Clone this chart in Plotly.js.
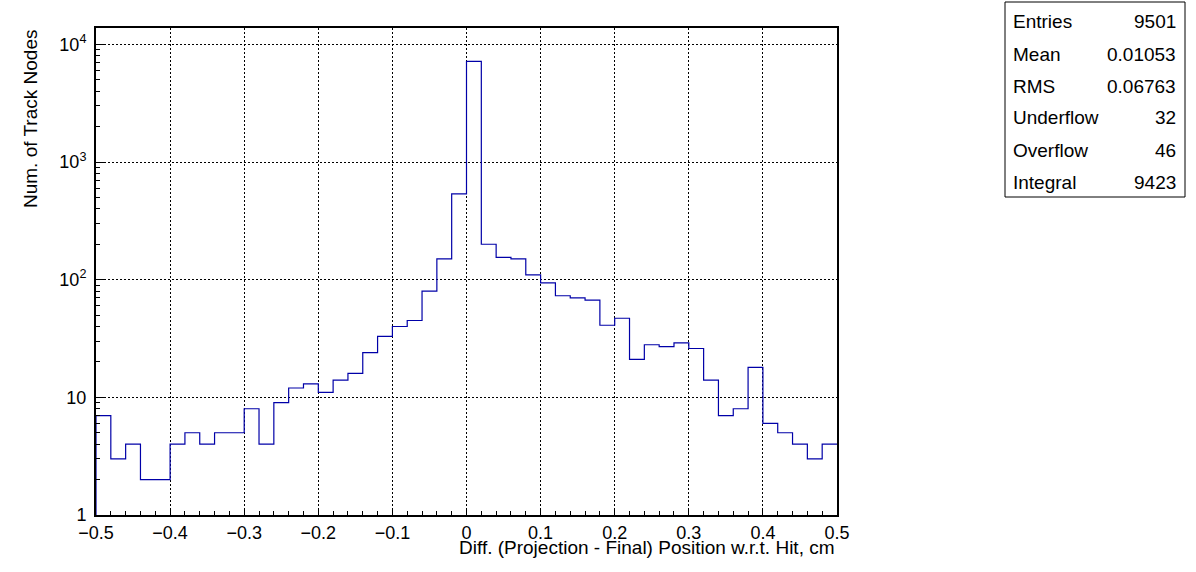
<!DOCTYPE html>
<html>
<head>
<meta charset="utf-8">
<script src="https://cdn.plot.ly/plotly-3.0.1.min.js"></script>
<style>html,body{margin:0;padding:0;background:#fff;}#chart{width:1196px;height:572px;}</style>
</head>
<body>
<div id="chart"></div>
<script>
// Histogram: 50 bins from -0.5 to 0.5 (width 0.02)
const binLow = -0.5;
const binWidth = 0.02;
const counts = [7,3,4,2,2,4,5,4,5,5,8,4,9,12,13,11,14,16,24,33,40,45,80,150,536,
                7180,200,155,150,110,94,73,70,67,41,47,21,28,27,29,26,14,7,8,18,6,5,4,3,4];
const xTickVals = [-0.5,-0.4,-0.3,-0.2,-0.1,0,0.1,0.2,0.3,0.4,0.5];
const yTickVals = [1,10,100,1000,10000];
const yTickText = ['1','10','10<sup>2</sup>','10<sup>3</sup>','10<sup>4</sup>'];
const statLabels = ['Entries','Mean','RMS','Underflow','Overflow','Integral'];
const statValues = ['9501','0.01053','0.06763','32','46','9423'];
const xTitle = 'Diff. (Projection - Final) Position w.r.t. Hit, cm';
const yTitle = 'Num. of Track Nodes';

// step outline
const xs = [binLow], ys = [1];
counts.forEach((c, i) => { xs.push(binLow + i * binWidth); ys.push(c); });
xs.push(binLow + counts.length * binWidth); ys.push(counts[counts.length - 1]);

const minorY = [];
for (let d = 1; d <= 10000; d *= 10) for (let k = 2; k <= 9; k++) if (d * k < 14000) minorY.push(d * k);

const font = 'Liberation Sans, Arial, Helvetica, sans-serif';
const trace = {
  x: xs, y: ys, type: 'scatter', mode: 'lines',
  line: {shape: 'hv', color: '#0000a8', width: 1.2},
  hoverinfo: 'skip'
};

const annotations = [
  {text: xTitle, xref: 'paper', yref: 'paper', x: 1, y: 0, xanchor: 'right', yanchor: 'top',
   yshift: -20, showarrow: false, font: {family: font, size: 19, color: '#000'}},
  {text: yTitle, xref: 'paper', yref: 'paper', x: 0, y: 1, xanchor: 'center', yanchor: 'top',
   xshift: -66, textangle: -90, showarrow: false, font: {family: font, size: 19, color: '#000'}}
];
const boxTop = 2, rowH = 32;
statLabels.forEach((lab, i) => {
  const yPx = boxTop + 20 + i * rowH;
  annotations.push({text: lab, xref: 'paper', yref: 'paper', x: (1011 - 96) / 741, y: 1 - (yPx - 28) / 487,
    xanchor: 'left', yanchor: 'middle', showarrow: false, font: {family: font, size: 19, color: '#000'}});
  annotations.push({text: statValues[i], xref: 'paper', yref: 'paper', x: (1178 - 96) / 741, y: 1 - (yPx - 28) / 487,
    xanchor: 'right', yanchor: 'middle', showarrow: false, font: {family: font, size: 19, color: '#000'}});
});

const layout = {
  width: 1196, height: 572,
  margin: {l: 96, r: 359, t: 28, b: 57},
  paper_bgcolor: '#fff', plot_bgcolor: '#fff',
  showlegend: false,
  font: {family: font, size: 17, color: '#000'},
  xaxis: {
    range: [-0.5, 0.5], tickmode: 'array', tickvals: xTickVals,
    ticks: 'inside', ticklen: 6, tickcolor: '#000', tickwidth: 1,
    showline: true, linecolor: '#000', linewidth: 2, mirror: true,
    showgrid: true, gridcolor: '#000', gridwidth: 1, griddash: '2px,2px',
    zeroline: false, tickfont: {family: font, size: 18},
    minor: {dtick: 0.02, ticks: 'inside', ticklen: 4, tickcolor: '#000', showgrid: false}
  },
  yaxis: {
    type: 'log', range: [0, 4.139], tickmode: 'array', tickvals: yTickVals, ticktext: yTickText,
    ticks: 'inside', ticklen: 8, tickcolor: '#000', tickwidth: 1,
    showline: true, linecolor: '#000', linewidth: 2, mirror: true,
    showgrid: true, gridcolor: '#000', gridwidth: 1, griddash: '2px,2px',
    zeroline: false, tickfont: {family: font, size: 18}, ticklabelstandoff: 4,
    minor: {tickmode: 'array', tickvals: minorY, ticks: 'inside', ticklen: 4, tickcolor: '#000', showgrid: false}
  },
  shapes: [
    {type: 'rect', xref: 'paper', yref: 'paper', x0: (1005 - 96) / 741, x1: (1185 - 96) / 741,
     y0: 1 - (197 - 28) / 487, y1: 1 - (boxTop - 28) / 487, line: {color: '#000', width: 1}, fillcolor: 'rgba(0,0,0,0)'}
  ],
  annotations: annotations
};

Plotly.newPlot('chart', [trace], layout, {staticPlot: true, displayModeBar: false});
</script>
</body>
</html>
